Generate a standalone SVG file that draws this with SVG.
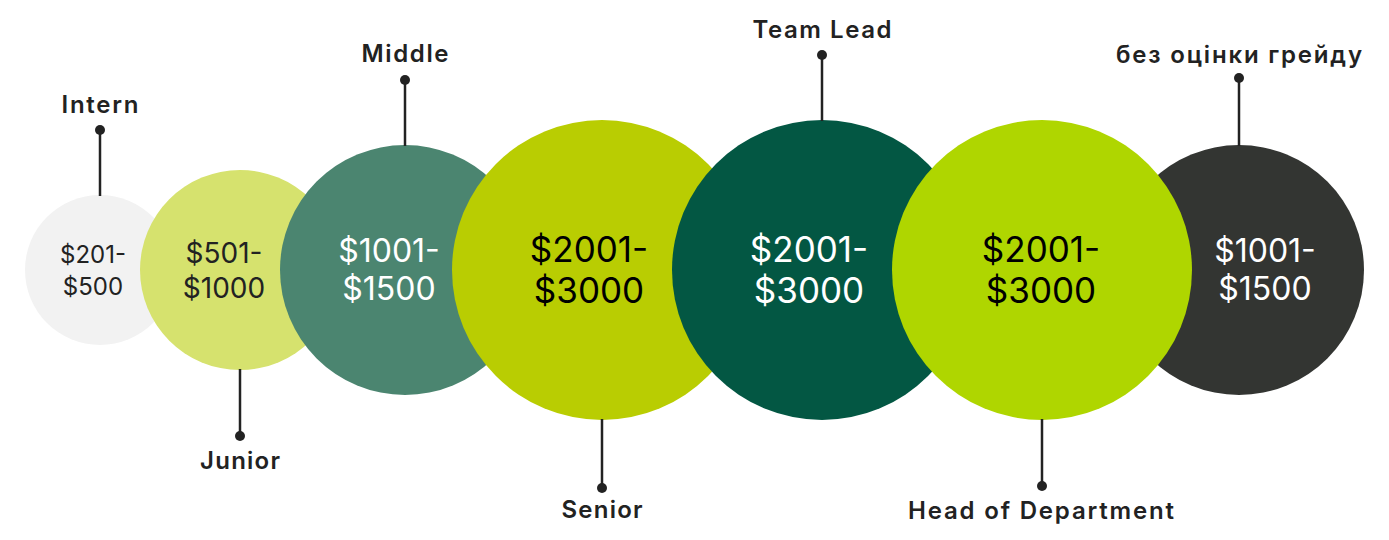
<svg xmlns="http://www.w3.org/2000/svg" width="1389" height="540" viewBox="0 0 1389 540">
<style>
.lbl{font-family:"Inter","Liberation Sans",sans-serif;font-weight:600;font-size:24px;fill:#222;text-anchor:middle}
.val{font-family:"Inter","Liberation Sans",sans-serif;font-weight:400;text-anchor:middle}
.ln{stroke:#222;stroke-width:2.5}
.dot{fill:#222}
</style>
<rect width="1389" height="540" fill="#fff"/>
<g id="intern">
<circle cx="100" cy="270" r="75" fill="#f2f2f2"/>
<text class="val" x="93" y="263" font-size="24" fill="#222">$201-</text>
<text class="val" x="93" y="295" font-size="24" fill="#222">$500</text>
</g>
<g id="junior">
<circle cx="240" cy="270" r="100" fill="#d6e26e"/>
<text class="val" x="224" y="263" font-size="28" fill="#222">$501-</text>
<text class="val" x="224" y="298" font-size="28" fill="#222">$1000</text>
</g>
<g id="middle">
<circle cx="405" cy="270" r="125" fill="#4b8570"/>
<text class="val" x="389" y="262" font-size="32" fill="#fff">$1001-</text>
<text class="val" x="389" y="300" font-size="32" fill="#fff">$1500</text>
</g>
<g id="senior">
<circle cx="602" cy="270" r="150" fill="#b9cd02"/>
<text class="val" x="589" y="262" font-size="35" fill="#000">$2001-</text>
<text class="val" x="589" y="303" font-size="35" fill="#000">$3000</text>
</g>
<g id="teamlead">
<circle cx="822" cy="270" r="150" fill="#035743"/>
<text class="val" x="809" y="262" font-size="35" fill="#fff">$2001-</text>
<text class="val" x="809" y="303" font-size="35" fill="#fff">$3000</text>
</g>
<g id="nograde">
<circle cx="1239" cy="270" r="125" fill="#333532"/>
<text class="val" x="1265" y="262" font-size="32" fill="#fff">$1001-</text>
<text class="val" x="1265" y="300" font-size="32" fill="#fff">$1500</text>
</g>
<g id="head">
<circle cx="1042" cy="270" r="150" fill="#afd600"/>
<text class="val" x="1041" y="262" font-size="35" fill="#000">$2001-</text>
<text class="val" x="1041" y="303" font-size="35" fill="#000">$3000</text>
</g>
<g id="connectors">
<line class="ln" x1="100" y1="130" x2="100" y2="196"/><circle class="dot" cx="100" cy="130" r="5"/>
<line class="ln" x1="240" y1="369" x2="240" y2="436"/><circle class="dot" cx="240" cy="436" r="5"/>
<line class="ln" x1="405" y1="80" x2="405" y2="146"/><circle class="dot" cx="405" cy="80" r="5"/>
<line class="ln" x1="602" y1="419" x2="602" y2="488"/><circle class="dot" cx="602" cy="488" r="5"/>
<line class="ln" x1="822" y1="55" x2="822" y2="121"/><circle class="dot" cx="822" cy="55" r="5"/>
<line class="ln" x1="1042" y1="419" x2="1042" y2="486"/><circle class="dot" cx="1042" cy="486" r="5"/>
<line class="ln" x1="1239" y1="78" x2="1239" y2="146"/><circle class="dot" cx="1239" cy="78" r="5"/>
</g>
<g id="labels">
<text class="lbl" x="100" y="113" textLength="77" lengthAdjust="spacing">Intern</text>
<text class="lbl" x="240" y="469" textLength="80" lengthAdjust="spacing">Junior</text>
<text class="lbl" x="405" y="62" textLength="87" lengthAdjust="spacing">Middle</text>
<text class="lbl" x="602" y="518" textLength="81" lengthAdjust="spacing">Senior</text>
<text class="lbl" x="822" y="38" textLength="139" lengthAdjust="spacing">Team Lead</text>
<text class="lbl" x="1041" y="519" textLength="266" lengthAdjust="spacing">Head of Department</text>
<text class="lbl" x="1239" y="63" textLength="246" lengthAdjust="spacing">без оцінки грейду</text>
</g>
</svg>
